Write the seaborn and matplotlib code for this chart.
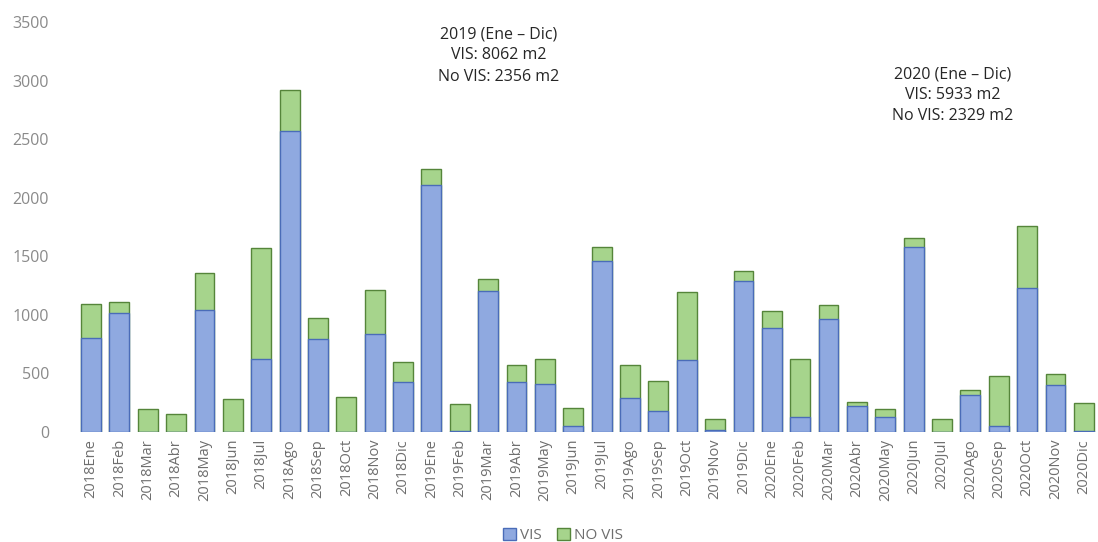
import matplotlib
matplotlib.use("Agg")
import matplotlib.pyplot as plt
import seaborn as sns
import pandas as pd
import numpy as np
from matplotlib.patches import Patch

months = ["2018Ene", "2018Feb", "2018Mar", "2018Abr", "2018May", "2018Jun",
          "2018Jul", "2018Ago", "2018Sep", "2018Oct", "2018Nov", "2018Dic",
          "2019Ene", "2019Feb", "2019Mar", "2019Abr", "2019May", "2019Jun",
          "2019Jul", "2019Ago", "2019Sep", "2019Oct", "2019Nov", "2019Dic",
          "2020Ene", "2020Feb", "2020Mar", "2020Abr", "2020May", "2020Jun",
          "2020Jul", "2020Ago", "2020Sep", "2020Oct", "2020Nov", "2020Dic"]
vis = [800, 1015, 0, 0, 1040, 0,
       625, 2570, 790, 0, 835, 425,
       2110, 10, 1200, 425, 410, 55,
       1460, 290, 175, 615, 15, 1290,
       890, 125, 965, 225, 130, 1580,
       0, 320, 50, 1230, 400, 10]
no_vis = [290, 95, 195, 150, 320, 285,
          945, 350, 180, 295, 380, 175,
          140, 225, 105, 145, 215, 150,
          120, 280, 260, 580, 100, 85,
          140, 495, 120, 35, 70, 75,
          115, 35, 425, 530, 95, 235]
y_ticks = [0, 500, 1000, 1500, 2000, 2500, 3000, 3500]
note_2019 = "2019 (Ene – Dic)\nVIS: 8062 m2\nNo VIS: 2356 m2"
note_2020 = "2020 (Ene – Dic)\nVIS: 5933 m2\nNo VIS: 2329 m2"

df = pd.DataFrame({"mes": months, "VIS": vis, "NO VIS": no_vis})
df["total"] = df["VIS"] + df["NO VIS"]

sns.set_style("white")
plt.rcParams["font.family"] = ["Open Sans", "DejaVu Sans"]

blue_fill, blue_edge = "#8FA9E0", "#4A6CB8"
green_fill, green_edge = "#A6D48C", "#55853A"

fig = plt.figure(figsize=(10.98, 5.42), dpi=100)
ax = fig.add_axes([0.070, 0.203, 0.930, 0.756])

sns.barplot(data=df, x="mes", y="total", color=green_fill, edgecolor=green_edge,
            linewidth=1.0, width=0.7, saturation=1, ax=ax)
sns.barplot(data=df, x="mes", y="VIS", color=blue_fill, edgecolor=blue_edge,
            linewidth=1.0, width=0.7, saturation=1, ax=ax)

ax.set_ylim(0, 3500)
ax.set_yticks(y_ticks)
ax.set_xlim(-0.5, len(months) - 0.5)
ax.set_xlabel("")
ax.set_ylabel("")
for s in ax.spines.values():
    s.set_visible(False)
ax.tick_params(axis="x", rotation=90, labelsize=10.5, colors="#6e6e6e", length=0, pad=5)
ax.tick_params(axis="y", labelsize=11.5, colors="#8a8a8a", length=0, pad=20)

fig.text(0.454, 0.952, note_2019, ha="center", va="top", fontsize=11.5,
         color="#262626", linespacing=1.45)
fig.text(0.868, 0.878, note_2020, ha="center", va="top", fontsize=11.5,
         color="#262626", linespacing=1.4)

handles = [Patch(facecolor=blue_fill, edgecolor=blue_edge, label="VIS"),
           Patch(facecolor=green_fill, edgecolor=green_edge, label="NO VIS")]
fig.legend(handles=handles, loc="center", bbox_to_anchor=(0.513, 0.012), ncol=2,
           frameon=False, fontsize=11, handlelength=0.8, handleheight=0.8,
           handletextpad=0.3, columnspacing=1.0, labelcolor="#6e6e6e")

fig.savefig("out.png", dpi=100)
